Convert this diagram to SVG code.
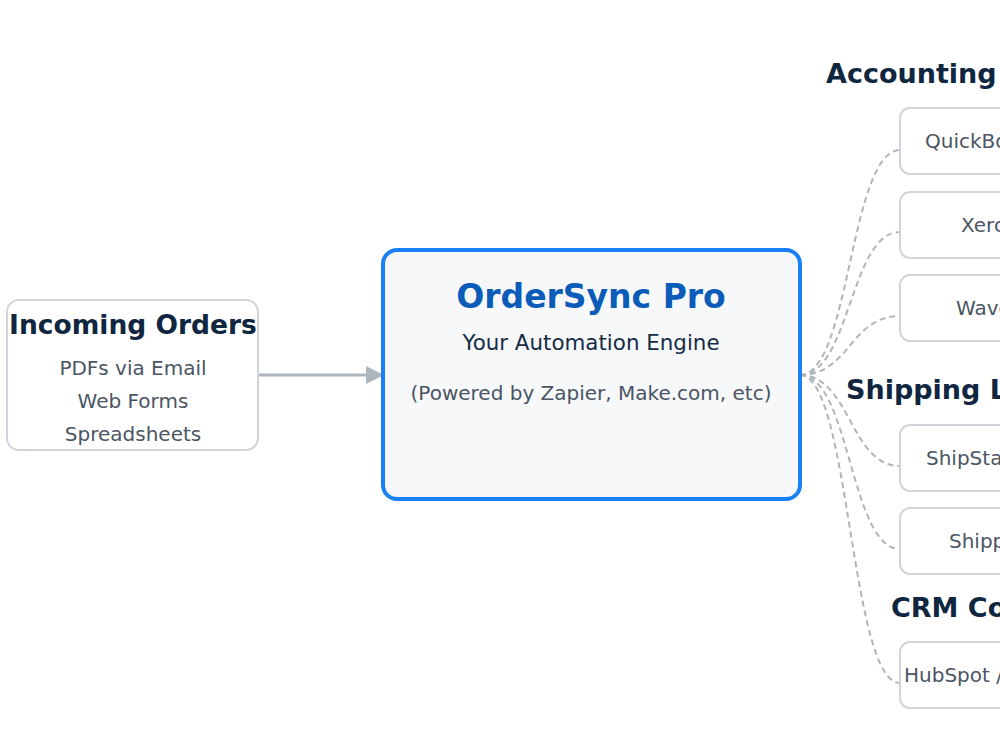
<svg xmlns="http://www.w3.org/2000/svg" width="1000" height="750" viewBox="0 0 1000 750">
<defs>
<style>
text{font-family:"DejaVu Sans","Noto Sans",sans-serif}
.box{fill:#ffffff;stroke:#d1d5db;stroke-width:2}
.hd{font-weight:bold;font-size:27px;fill:#0f2640}
.it{font-size:20px;fill:#4b5563}
.con{fill:none;stroke:#b0b5bb;stroke-width:2;stroke-dasharray:6 4}
</style>
<marker id="ah" viewBox="0 0 10 10" refX="10" refY="5" markerWidth="6" markerHeight="6" markerUnits="strokeWidth" orient="auto">
<path d="M0,0 L10,5 L0,10 z" fill="#adb5bd"/>
</marker>
</defs>
<rect width="1000" height="750" fill="#ffffff"/>

<g id="connectors">
<line x1="258" y1="375" x2="384" y2="375" stroke="#adb5bd" stroke-width="3" marker-end="url(#ah)"/>
<path class="con" d="M800,375 C850,375 850,150 900,150"/>
<path class="con" d="M800,375 C850,375 850,232 900,232"/>
<path class="con" d="M800,375 C850,375 850,316 900,316"/>
<path class="con" d="M800,375 C850,375 850,466 900,466"/>
<path class="con" d="M800,375 C850,375 850,549 900,549"/>
<path class="con" d="M800,375 C850,375 850,683 900,683"/>
</g>

<g id="incoming">
<rect class="box" x="7" y="300" width="251" height="150" rx="12"/>
<text x="133" y="334" text-anchor="middle" font-weight="bold" font-size="26.5" fill="#0f2640">Incoming Orders</text>
<text class="it" x="133" y="375" text-anchor="middle">PDFs via Email</text>
<text class="it" x="133" y="408" text-anchor="middle">Web Forms</text>
<text class="it" x="133" y="441" text-anchor="middle">Spreadsheets</text>
</g>

<g id="engine">
<rect x="383" y="250" width="417" height="249" rx="14" fill="#f6f8fa" stroke="#1a80f8" stroke-width="4"/>
<text x="591" y="308" text-anchor="middle" font-weight="bold" font-size="33" fill="#0b5cb8">OrderSync Pro</text>
<text x="591" y="350" text-anchor="middle" font-size="21.4" fill="#172b45">Your Automation Engine</text>
<text x="591" y="400" text-anchor="middle" font-size="20" fill="#4b5563">(Powered by Zapier, Make.com, etc)</text>
</g>

<g id="accounting-heading"><text class="hd" x="826" y="83">Accounting Software</text></g>
<g id="quickbooks">
<rect class="box" x="900" y="108" width="168" height="66" rx="10"/>
<text class="it" x="925" y="148">QuickBooks</text>
</g>
<g id="xero">
<rect class="box" x="900" y="192" width="168" height="66" rx="10"/>
<text class="it" x="961" y="232">Xero</text>
</g>
<g id="wave">
<rect class="box" x="900" y="275" width="168" height="66" rx="10"/>
<text class="it" x="956" y="315">Wave</text>
</g>

<g id="shipping-heading"><text class="hd" x="846" y="399">Shipping Logistics</text></g>
<g id="shipstation">
<rect class="box" x="900" y="425" width="168" height="66" rx="10"/>
<text class="it" x="926" y="465">ShipStation</text>
</g>
<g id="shippo">
<rect class="box" x="900" y="508" width="168" height="66" rx="10"/>
<text class="it" x="949" y="548">Shippo</text>
</g>

<g id="crm-heading"><text class="hd" x="891" y="617">CRM Contacts</text></g>
<g id="hubspot">
<rect class="box" x="900" y="642" width="168" height="66" rx="10"/>
<text class="it" x="904" y="682">HubSpot / Zoho</text>
</g>
</svg>
